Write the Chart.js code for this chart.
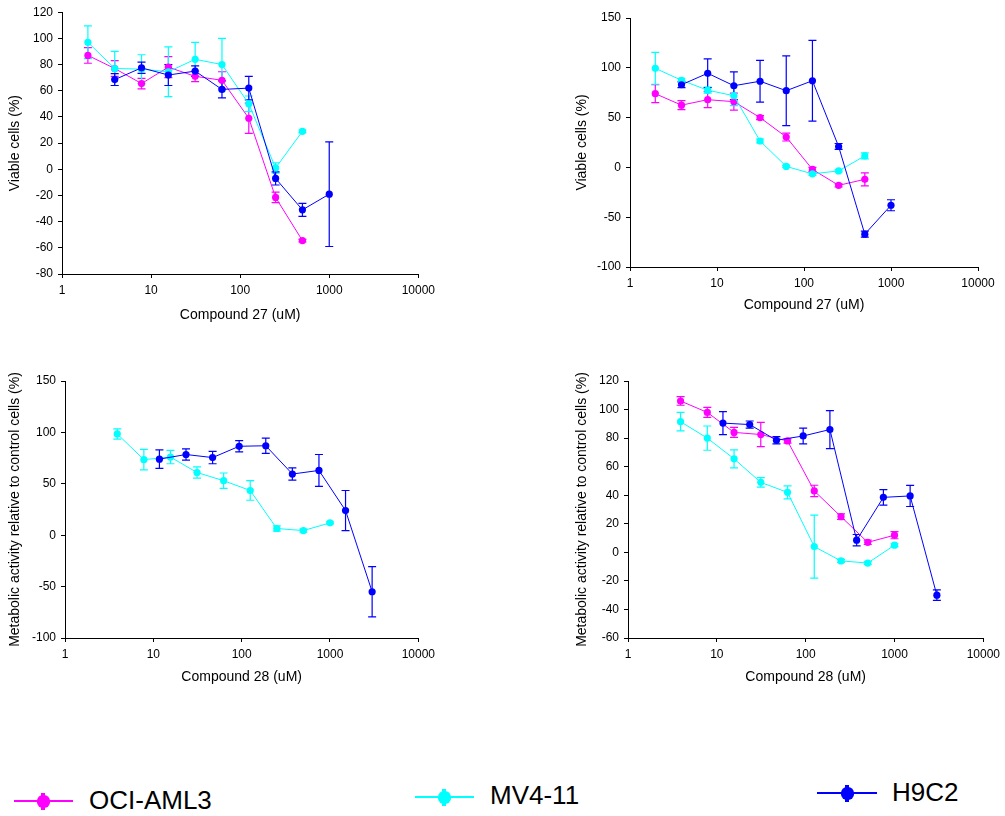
<!DOCTYPE html>
<html>
<head>
<meta charset="utf-8">
<script src="https://cdn.jsdelivr.net/npm/chart.js@4.4.1/dist/chart.umd.min.js"></script>
<style>
  html, body { margin: 0; padding: 0; background: #fff; }
  #page { position: relative; width: 1005px; height: 816px; overflow: hidden;
          font-family: "Liberation Sans", Arial, sans-serif; }
  #page canvas { position: absolute; }
  .key-line { position: absolute; height: 2px; }
  .key-dot { position: absolute; width: 13px; height: 13px; border-radius: 45%; }
  .key-spike { position: absolute; width: 4px; height: 17px; }
  .key-text { position: absolute; font-size: 26px; line-height: 26px; color: #000; white-space: nowrap; }
</style>
</head>
<body>
<div id="page">
  <canvas id="panel1"></canvas>
  <canvas id="panel2"></canvas>
  <canvas id="panel3"></canvas>
  <canvas id="panel4"></canvas>
  <div id="key"></div>
</div>
<script>
// ---- doses (uM) ----
const dosesLow  = [1.953, 3.906, 7.813, 15.63, 31.25, 62.5, 125, 250, 500, 1000];
const dosesHigh = [11.72, 23.44, 46.88, 93.75, 187.5, 375, 750, 1500, 3000];
const xTickValues = [1, 10, 100, 1000, 10000];

// ---- cell lines ----
const cellLines = ['OCI-AML3', 'MV4-11', 'H9C2'];
const lineColors = ['#ff00ff', '#00ffff', '#0000ff'];

// ---- panel 1: compound 27, viable cells ----
const p1OciY    = [87, 77, 65.5, 78, 71, 68, 39, -21.5, -54.5];
const p1OciErr  = [6, 6, 4, 8, 4, 6.5, 11.5, 4, 1];
const p1Mv4Y    = [97, 77, 76.5, 74.5, 84, 80, 50, 1, 29];
const p1Mv4Err  = [12.5, 13, 11, 19, 13, 20, 6, 4, 1];
const p1H9Y     = [68.5, 77.5, 72, 75, 61, 62, -7, -31, -19];
const p1H9Err   = [4.5, 4.3, 8, 4, 6.5, 9, 5, 5, 40];

// ---- panel 2: compound 27, viable cells ----
const p2OciY    = [74, 62.5, 68, 66, 50, 30.5, -2, -18, -12];
const p2OciErr  = [9, 4.5, 8, 8.5, 2, 4, 2, 1.5, 6.5];
const p2Mv4Y    = [99.5, 87.5, 77.5, 72, 26.5, 1, -6.5, -3.5, 11.5];
const p2Mv4Err  = [16, 2, 3, 10, 2, 1, 1.5, 1, 3];
const p2H9Y     = [83, 94.5, 82, 86.5, 77, 87, 21, -67, -38];
const p2H9Err   = [3, 14.5, 14, 21, 35, 40.5, 3, 3, 5.5];

// ---- panel 3: compound 28, metabolic activity ----
const p3Mv4Y    = [98.5, 73.5, 76, 61, 53, 43.5, 6.5, 4.5, 12];
const p3Mv4Err  = [5, 10, 6.5, 5.5, 7.5, 9.5, 2.5, 1.5, 1];
const p3H9Y     = [74, 78.5, 75.5, 86.5, 87, 59.5, 63, 24, -55];
const p3H9Err   = [9, 5.5, 6, 5.5, 7.5, 6, 15.5, 19.5, 24.5];

// ---- panel 4: compound 28, metabolic activity ----
const p4OciY    = [106, 98, 84, 82.5, 78, 43, 25, 7, 12];
const p4OciErr  = [3, 3.5, 3.5, 8.5, 1.5, 4, 2, 1.5, 2.5];
const p4Mv4Y    = [91.5, 80, 65.5, 49, 42, 4, -6, -7.5, 5];
const p4Mv4Err  = [6.5, 8.5, 6.3, 3.3, 4.6, 22, 1, 1, 1];
const p4H9Y     = [90.5, 89.5, 78.5, 81.5, 86, 8.5, 38.5, 39.5, -30];
const p4H9Err   = [8, 2.5, 2.5, 5.5, 13.3, 4, 5.4, 7.4, 3.7];

const FONT = '"Liberation Sans", Arial, sans-serif';
Chart.defaults.font.family = FONT;
Chart.defaults.color = '#000';

// vertical error bars with caps, drawn beneath the markers
const errorBars = {
  id: 'errorBars',
  beforeDatasetsDraw(chart) {
    const { ctx, scales: { x, y } } = chart;
    chart.data.datasets.forEach(ds => {
      if (!ds.errors) return;
      ctx.save();
      ctx.strokeStyle = ds.borderColor;
      ctx.lineWidth = 1.2;
      ds.data.forEach((p, j) => {
        const e = ds.errors[j];
        if (!e) return;
        const px = x.getPixelForValue(p.x);
        const top = y.getPixelForValue(p.y + e);
        const bot = y.getPixelForValue(p.y - e);
        ctx.beginPath();
        ctx.moveTo(px, top); ctx.lineTo(px, bot);
        ctx.moveTo(px - 4, top); ctx.lineTo(px + 4, top);
        ctx.moveTo(px - 4, bot); ctx.lineTo(px + 4, bot);
        ctx.stroke();
      });
      ctx.restore();
    });
  }
};

function series(idx, xs, ys, errs) {
  return {
    label: cellLines[idx],
    data: ys.map((v, i) => ({ x: xs[i], y: v })),
    errors: errs,
    borderColor: lineColors[idx],
    backgroundColor: lineColors[idx],
    pointBackgroundColor: lineColors[idx],
    pointBorderWidth: 0,
    pointRadius: 3.6,
    borderWidth: 1,
    tension: 0,
    order: 2 - idx
  };
}

function panel(id, box, plot, yMin, yMax, yStep, xTitle, yTitle, xTitleCenter, yTitleCenter, datasets) {
  const cv = document.getElementById(id);
  cv.width = box.w; cv.height = box.h;
  cv.style.left = box.x + 'px'; cv.style.top = box.y + 'px';
  const titleHalf = 14 * 1.2 / 2;
  new Chart(cv, {
    type: 'line',
    data: { datasets },
    plugins: [errorBars],
    options: {
      responsive: false, animation: false, devicePixelRatio: 1,
      layout: { padding: { left: 0, top: plot.t - box.y, right: box.x + box.w - plot.r, bottom: 0 } },
      plugins: { legend: { display: false }, tooltip: { enabled: false } },
      scales: {
        x: {
          type: 'logarithmic', min: 1, max: 10000, position: 'bottom',
          afterBuildTicks: s => { s.ticks = xTickValues.map(v => ({ value: v })); },
          afterFit: s => { s.height = box.y + box.h - plot.b; },
          ticks: { callback: v => String(v), font: { size: 12 }, color: '#000', padding: 5,
                   autoSkip: false, maxRotation: 0 },
          grid: { drawOnChartArea: false, drawTicks: true, tickLength: 4, color: '#000' },
          border: { display: true, color: '#000', width: 1 },
          title: { display: true, text: xTitle, font: { size: 14 }, color: '#000',
                   padding: { top: 0, bottom: box.y + box.h - xTitleCenter - titleHalf } }
        },
        y: {
          type: 'linear', min: yMin, max: yMax,
          afterFit: s => { s.width = plot.l - box.x; },
          ticks: { stepSize: yStep, font: { size: 12 }, color: '#000', padding: 5 },
          grid: { drawOnChartArea: false, drawTicks: true, tickLength: 4, color: '#000' },
          border: { display: true, color: '#000', width: 1 },
          title: { display: true, text: yTitle, font: { size: 14 }, color: '#000',
                   padding: { top: yTitleCenter - box.x - titleHalf, bottom: 0 } }
        }
      }
    }
  });
}

const lowFirst9 = dosesLow.slice(0, 9);
const lowLast9 = dosesLow.slice(1);

panel('panel1', { x: 0, y: 0, w: 440, h: 340 }, { l: 62, t: 10, r: 420, b: 274 },
  -80, 120, 20, 'Compound 27 (uM)', 'Viable cells (%)', 315, 15, [
    series(0, lowFirst9, p1OciY, p1OciErr),
    series(1, lowFirst9, p1Mv4Y, p1Mv4Err),
    series(2, lowLast9, p1H9Y, p1H9Err)
  ]);

panel('panel2', { x: 560, y: 0, w: 440, h: 340 }, { l: 630, t: 18, r: 978, b: 267 },
  -100, 150, 50, 'Compound 27 (uM)', 'Viable cells (%)', 305, 582, [
    series(0, lowFirst9, p2OciY, p2OciErr),
    series(1, lowFirst9, p2Mv4Y, p2Mv4Err),
    series(2, lowLast9, p2H9Y, p2H9Err)
  ]);

panel('panel3', { x: 0, y: 360, w: 440, h: 340 }, { l: 65, t: 381, r: 421, b: 638 },
  -100, 150, 50, 'Compound 28 (uM)', 'Metabolic activity relative to control cells (%)', 677, 15, [
    series(1, lowLast9, p3Mv4Y, p3Mv4Err),
    series(2, dosesHigh, p3H9Y, p3H9Err)
  ]);

panel('panel4', { x: 560, y: 360, w: 445, h: 340 }, { l: 628, t: 381, r: 988, b: 638 },
  -60, 120, 20, 'Compound 28 (uM)', 'Metabolic activity relative to control cells (%)', 677, 582.5, [
    series(0, lowLast9, p4OciY, p4OciErr),
    series(1, lowLast9, p4Mv4Y, p4Mv4Err),
    series(2, dosesHigh, p4H9Y, p4H9Err)
  ]);

// shared key under the panels: line, marker with a short error tick, name
const keyItems = [
  { line: [14, 73, 800], dot: 43, text: [89, 787] },
  { line: [415, 474, 796], dot: 444, text: [490, 782] },
  { line: [817, 877, 792], dot: 847, text: [892, 779] }
];
const key = document.getElementById('key');
keyItems.forEach((k, i) => {
  const add = (cls, css) => {
    const el = document.createElement('div');
    el.className = cls;
    Object.assign(el.style, css);
    key.appendChild(el);
    return el;
  };
  const mid = k.line[2] + 1;
  add('key-line', { left: k.line[0] + 'px', width: (k.line[1] - k.line[0]) + 'px',
                    top: k.line[2] + 'px', background: lineColors[i] });
  add('key-spike', { left: (k.dot - 2) + 'px', top: (mid - 8.5) + 'px', background: lineColors[i] });
  add('key-dot', { left: (k.dot - 6.5) + 'px', top: (mid - 6.5) + 'px', background: lineColors[i] });
  const tx = add('key-text', { left: k.text[0] + 'px', top: k.text[1] + 'px' });
  tx.textContent = cellLines[i];
});
</script>
</body>
</html>
